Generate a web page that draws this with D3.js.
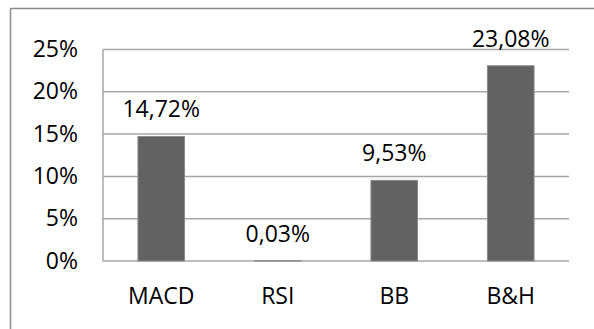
<!DOCTYPE html>
<html>
<head>
<meta charset="utf-8">
<script src="https://cdn.jsdelivr.net/npm/d3@7"></script>
<style>
  html, body { margin: 0; padding: 0; background: #fff; }
  svg { display: block; }
  text { font-family: "Open Sans", "Noto Sans", sans-serif; fill: #000; }
</style>
</head>
<body>
<svg id="chart" width="594" height="329"></svg>
<script>
// Returns by strategy
const categories = ["MACD", "RSI", "BB", "B&H"];
const returns = [14.72, 0.03, 9.53, 23.08];
const valueLabels = ["14,72%", "0,03%", "9,53%", "23,08%"];
const yTicks = [0, 5, 10, 15, 20, 25];
const yTickLabels = ["0%", "5%", "10%", "15%", "20%", "25%"];

const svg = d3.select("#chart");
const W = 594, H = 329;
const plot = { left: 103, right: 569, top: 49.5, bottom: 261 };

// outer chart frame (extends past the right and bottom edges)
svg.append("rect")
  .attr("x", 10.5).attr("y", 8.5)
  .attr("width", W + 20).attr("height", H + 20)
  .attr("fill", "none").attr("stroke", "#8c8c8c").attr("stroke-width", 1.5);

const x = d3.scaleBand().domain(categories)
  .range([plot.left, plot.right]).paddingInner(0.6).paddingOuter(0.3);
const y = d3.scaleLinear().domain([0, 25]).range([plot.bottom, plot.top]);

// horizontal gridlines
svg.append("g")
  .selectAll("line").data(yTicks).join("line")
  .attr("x1", plot.left).attr("x2", plot.right)
  .attr("y1", d => y(d)).attr("y2", d => y(d))
  .attr("stroke", "#a6a6a6").attr("stroke-width", 1.5);

// vertical axis line
svg.append("line")
  .attr("x1", plot.left).attr("x2", plot.left)
  .attr("y1", y(25)).attr("y2", y(0))
  .attr("stroke", "#a6a6a6").attr("stroke-width", 1.5);

// y tick labels
svg.append("g")
  .selectAll("text").data(yTicks).join("text")
  .attr("x", 78).attr("y", d => y(d) + 7.5)
  .attr("text-anchor", "end")
  .attr("font-size", 23)
  .text((d, i) => yTickLabels[i]);

// bars
svg.append("g")
  .selectAll("rect").data(returns).join("rect")
  .attr("x", (d, i) => x(categories[i]))
  .attr("width", x.bandwidth())
  .attr("y", d => y(d))
  .attr("height", d => y(0) - y(d))
  .attr("fill", "#626262")
  .attr("stroke", "#8a8a8a").attr("stroke-width", 1);

// value labels
svg.append("g")
  .selectAll("text").data(returns).join("text")
  .attr("x", (d, i) => x(categories[i]) + x.bandwidth() / 2)
  .attr("y", d => y(d) - 19)
  .attr("text-anchor", "middle")
  .attr("font-size", 23)
  .text((d, i) => valueLabels[i]);

// category labels
svg.append("g")
  .selectAll("text").data(categories).join("text")
  .attr("x", d => x(d) + x.bandwidth() / 2)
  .attr("y", 304)
  .attr("text-anchor", "middle")
  .attr("font-size", 23)
  .text(d => d);
</script>
</body>
</html>
